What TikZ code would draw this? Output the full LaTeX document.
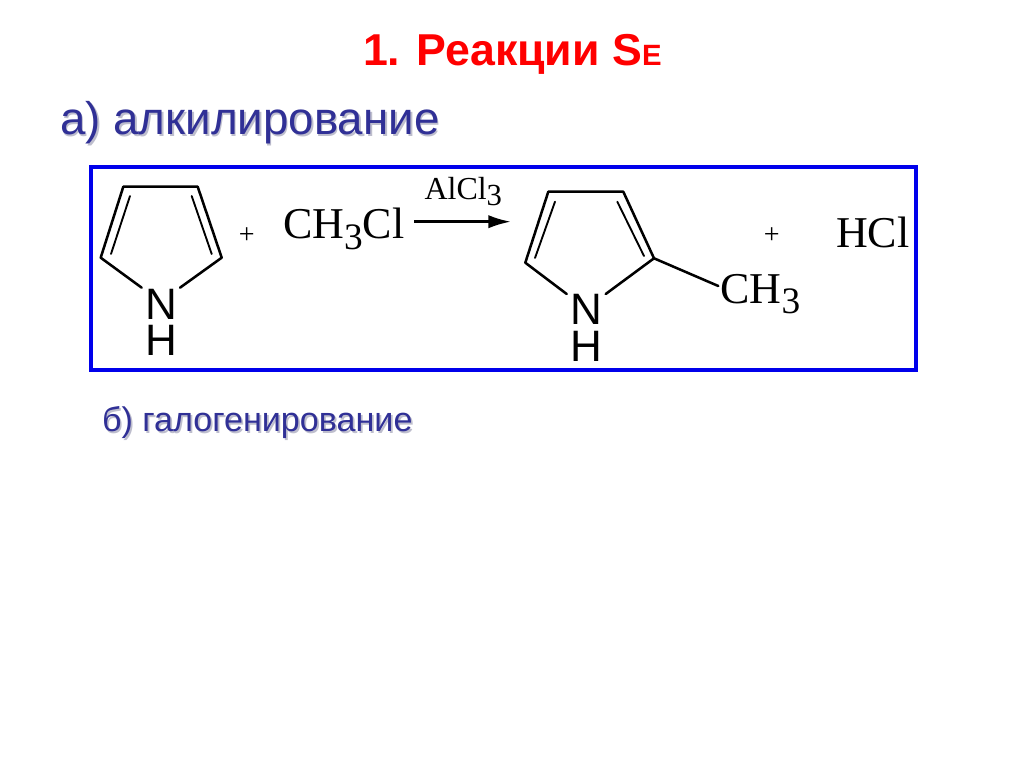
\documentclass[tikz,border=0pt]{standalone}
\usepackage{fontspec}
\setmainfont{Liberation Serif}
\newfontfamily\lsans{Liberation Sans}
\usetikzlibrary{arrows.meta}
\definecolor{navyt}{RGB}{48,48,150}
\definecolor{shadowt}{RGB}{190,190,205}
\definecolor{boxblue}{RGB}{0,0,235}
\newcommand{\shadowed}[1]{\rlap{\hspace{1.3pt}\raisebox{-1.6pt}{\textcolor{shadowt}{#1}}}\textcolor{navyt}{#1}}
\newcommand{\subthree}{\raisebox{-8pt}{\fontsize{28}{30}\selectfont 3}}
\tikzset{
 lbl/.style={inner sep=0pt,outer sep=0pt,anchor=base west},
 atom/.style={inner sep=0pt,outer sep=0pt,anchor=base,align=center,font=\lsans\fontsize{33}{27.4}\selectfont},
 bond/.style={line width=1.9pt,line cap=round,line join=round},
 inner/.style={line width=1.4pt,line cap=round},
 chem/.style={lbl,font=\fontsize{33}{40}\selectfont},
 plus/.style={inner sep=0pt,outer sep=0pt,anchor=center,font=\fontsize{21}{24}\selectfont},
 head/.style={lbl,font=\lsans\bfseries\fontsize{33.5}{40}\selectfont,text=red},
 suba/.style={lbl,font=\lsans\fontsize{34.3}{40}\selectfont},
 subb/.style={lbl,font=\lsans\fontsize{25.6}{30}\selectfont}
}
\begin{document}
\begin{tikzpicture}[x=0.75pt,y=-0.75pt]
\useasboundingbox[fill=white] (0,0) rectangle (1024,767);
% headings
\node[head] (title) at (363,66) {1. Реакции S{\fontsize{22}{24}\selectfont E}};
\node[suba] (subaT) at (60,134) {\shadowed{а) алкилирование}};
\node[subb] (subbT) at (102,431) {\shadowed{б) галогенирование}};
% frame
\node[draw=boxblue,line width=3pt,inner sep=0pt,outer sep=0pt,minimum width=618.75pt,minimum height=151.9pt,anchor=center] (frame) at (503.3,268.75) {};
% pyrrole
\coordinate (a1) at (123.3,186.7);
\coordinate (a2) at (197.7,186.7);
\coordinate (a3) at (221.7,257.7);
\coordinate (a4) at (100.7,257.7);
\coordinate (a5) at (141.7,287.7);
\coordinate (a6) at (180,287.7);
\coordinate (a7) at (130,196);
\coordinate (a8) at (111,254);
\coordinate (a9) at (191.7,196);
\coordinate (a10) at (211.7,254);
\draw[bond] (a5) -- (a4) -- (a1) -- (a2) -- (a3) -- (a6);
\draw[inner] (a7) -- (a8);
\draw[inner] (a9) -- (a10);
\node[atom,anchor=north] (n1) at (161.7,289) {N\\H};
\node[plus] (p1) at (246.7,235.5) {+};
\node[chem] (ch3cl) at (283,238.5) {CH\subthree Cl};
\node[lbl,font=\fontsize{24}{30}\selectfont] (alcl) at (424.5,199.3) {AlCl\raisebox{-5pt}{\fontsize{23}{26}\selectfont 3}};
\coordinate (arrL) at (414,221.7);
\coordinate (arrR) at (511,221.7);
\draw[line width=2pt,-{Latex[length=17pt,width=10pt]}] (arrL) -- (arrR);
% methylpyrrole
\coordinate (b1) at (548.3,191.7);
\coordinate (b2) at (623.3,191.7);
\coordinate (b3) at (654,258.3);
\coordinate (b4) at (525.3,262.7);
\coordinate (b5) at (566.7,294);
\coordinate (b6) at (605.7,294);
\coordinate (b7) at (555,201.7);
\coordinate (b8) at (535,258);
\coordinate (b9) at (617.3,201.7);
\coordinate (b10) at (644,256);
\coordinate (b11) at (718.3,286);
\draw[bond] (b5) -- (b4) -- (b1) -- (b2) -- (b3) -- (b6);
\draw[bond] (b3) -- (b11);
\draw[inner] (b7) -- (b8);
\draw[inner] (b9) -- (b10);
\node[atom,anchor=north] (n2) at (586.7,294.5) {N\\H};
\node[chem] (ch3) at (720.5,303.3) {CH\subthree};
\node[plus] (p2) at (771.7,235.5) {+};
\node[chem] (hcl) at (836,247) {HCl};
\end{tikzpicture}
\end{document}
